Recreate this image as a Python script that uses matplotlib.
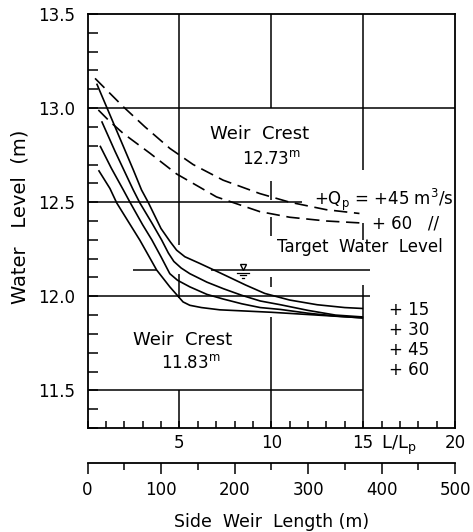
import matplotlib
matplotlib.use('Agg')
import matplotlib.pyplot as plt
from matplotlib.ticker import MultipleLocator, FixedLocator

plt.rcParams['font.family'] = ['DejaVu Sans']
plt.rcParams['mathtext.default'] = 'regular'

# ---------------- data (x = L/Lp, y = water level in m) ----------------
q15_x = [0.5, 1.5, 2.5, 2.94, 3.3, 4.0, 4.5, 4.85, 5.3, 6.1, 7.2, 7.74, 8.6, 9.65, 11.0, 12.5, 14.0, 15.0]
q15_y = [13.13, 12.90, 12.67, 12.565, 12.50, 12.36, 12.29, 12.245, 12.21, 12.175, 12.125, 12.10, 12.06, 12.015, 11.98, 11.955, 11.94, 11.935]

q30_x = [0.77, 1.5, 2.49, 2.85, 3.5, 4.03, 4.4, 4.7, 5.1, 5.57, 6.5, 7.4, 8.4, 9.4, 10.5, 12.0, 13.5, 15.0]
q30_y = [12.93, 12.77, 12.565, 12.496, 12.39, 12.30, 12.23, 12.185, 12.15, 12.12, 12.075, 12.04, 12.005, 11.975, 11.955, 11.925, 11.90, 11.89]

q45_x = [0.68, 1.3, 1.95, 2.31, 3.0, 3.5, 4.0, 4.48, 4.9, 5.57, 6.5, 7.4, 8.4, 9.4, 10.5, 12.0, 13.5, 15.0]
q45_y = [12.80, 12.68, 12.565, 12.50, 12.38, 12.30, 12.21, 12.12, 12.085, 12.05, 12.01, 11.985, 11.96, 11.94, 11.93, 11.91, 11.895, 11.885]

q60_x = [0.6, 1.22, 1.59, 2.2, 2.85, 3.3, 3.76, 4.48, 4.93, 5.2, 5.57, 6.2, 7.2, 8.5, 10.0, 12.5, 15.0]
q60_y = [12.67, 12.573, 12.496, 12.40, 12.298, 12.22, 12.14, 12.05, 12.00, 11.97, 11.952, 11.94, 11.928, 11.922, 11.915, 11.90, 11.885]

qp45_x = [0.41, 1.0, 1.95, 3.13, 4.48, 5.75, 7.38, 9.37, 11.0, 13.0, 14.8]
qp45_y = [13.158, 13.10, 13.007, 12.90, 12.786, 12.70, 12.617, 12.546, 12.50, 12.46, 12.44]

qp60_x = [0.59, 1.2, 1.95, 3.4, 4.85, 6.1, 7.02, 9.37, 11.0, 13.0, 14.8]
qp60_y = [12.99, 12.93, 12.865, 12.76, 12.65, 12.58, 12.528, 12.45, 12.42, 12.40, 12.39]

solid_labels = ['+ 15', '+ 30', '+ 45', '+ 60']
weir_crest_upper = '12.73'
weir_crest_lower = '11.83'
target_level = 12.138
LP_M = 25.0   # metres per unit of L/Lp (500 m <-> 20)

y_ticks = [11.5, 12.0, 12.5, 13.0, 13.5]
y_tick_labels = ['11.5', '12.0', '12.5', '13.0', '13.5']
x_ticks = [5, 10, 15, 20]
x_tick_labels = ['5', '10', '15', '20']
len_ticks = [0, 100, 200, 300, 400, 500]
len_tick_labels = ['0', '100', '200', '300', '400', '500']

# ---------------- figure ----------------
W, H = 473, 532
fig = plt.figure(figsize=(W / 100, H / 100), dpi=100)
L, R, T, B = 87.5, 455, 14, 428
ax = fig.add_axes([L / W, 1 - B / H, (R - L) / W, (B - T) / H])
ax.set_xlim(0, 20)
ax.set_ylim(11.3, 13.5)

for s in ax.spines.values():
    s.set_linewidth(1.3)

FS = 12
FW = 13
ax.yaxis.set_major_locator(FixedLocator(y_ticks))
ax.set_yticklabels(y_tick_labels)
ax.yaxis.set_minor_locator(MultipleLocator(0.1))
ax.xaxis.set_major_locator(FixedLocator(x_ticks))
ax.set_xticklabels(x_tick_labels)
ax.xaxis.set_minor_locator(MultipleLocator(1))
ax.tick_params(axis='y', which='both', direction='in', length=7, width=1.1,
               labelsize=FS, pad=9)
ax.tick_params(axis='x', which='both', direction='in', length=5, width=1.1,
               labelsize=FS, pad=4.5)

# hand-drawn style grid (segments)
gk = dict(color='black', lw=1.1)
ax.hlines(13.0, 0, 20, **gk)
ax.hlines(12.5, 0, 11.7, **gk)
ax.hlines(12.0, 0, 15.4, **gk)
ax.hlines(11.5, 0, 15.0, **gk)
ax.vlines(5, 12.27, 13.5, **gk)
ax.vlines(5, 11.99, 12.12, **gk)
ax.vlines(5, 11.3, 11.5, **gk)
for lo, hi in [(11.3, 11.89), (12.05, 12.10), (12.32, 12.42), (12.51, 12.61), (13.0, 13.5)]:
    ax.vlines(10, lo, hi, **gk)
for lo, hi in [(11.3, 12.06), (12.30, 12.39), (12.67, 13.5)]:
    ax.vlines(15, lo, hi, **gk)

# target water level
ax.hlines(target_level, 2.5, 3.8, color='black', lw=1.1)
ax.hlines(target_level, 6.7, 15.35, color='black', lw=1.1)
sx = 8.47
ax.plot([sx], [target_level + 0.02], marker='v', ms=5, mfc='white', mec='black', mew=1.0)
for dy, hw in [(-0.012, 0.32), (-0.027, 0.18), (-0.042, 0.06)]:
    ax.plot([sx - hw, sx + hw], [target_level + dy] * 2, color='black', lw=0.9)

# curves
for xs, ys in [(q15_x, q15_y), (q30_x, q30_y), (q45_x, q45_y), (q60_x, q60_y)]:
    ax.plot(xs, ys, color='black', lw=1.2, solid_capstyle='butt')
for xs, ys in [(qp45_x, qp45_y), (qp60_x, qp60_y)]:
    ax.plot(xs, ys, color='black', lw=1.2, dashes=[8, 4])

# annotations
ax.text(9.375, 12.86, 'Weir  Crest', ha='center', va='center', fontsize=FW)
ax.text(10.0, 12.73, weir_crest_upper + '$^{m}$', ha='center', va='center', fontsize=FS)
ax.text(5.2, 11.77, 'Weir  Crest', ha='center', va='center', fontsize=FW)
ax.text(5.6, 11.645, weir_crest_lower + '$^{m}$', ha='center', va='center', fontsize=FS)
ax.text(12.3, 12.51, '+Q$_p$ = +45 m$^3$/s', ha='left', va='center', fontsize=FS)
ax.text(15.46, 12.385, '+ 60   //', ha='left', va='center', fontsize=FS)
ax.text(10.3, 12.263, 'Target  Water  Level', ha='left', va='center', fontsize=FS)
for lab, yy in zip(solid_labels, [11.926, 11.82, 11.713, 11.61]):
    ax.text(16.4, yy, lab, ha='left', va='center', fontsize=FS)

ax.text(15.95, 11.205, 'L/L$_p$', ha='left', va='center', fontsize=FW)

# secondary (side weir length) axis
sec = ax.secondary_xaxis((B - 463) / (B - T),
                         functions=(lambda v: v * LP_M, lambda m: m / LP_M))
sec.xaxis.set_major_locator(FixedLocator(len_ticks))
sec.set_xticklabels(len_tick_labels)
sec.xaxis.set_minor_locator(MultipleLocator(50))
sec.tick_params(which='major', direction='out', length=8, width=1.1, labelsize=FS, pad=5)
sec.tick_params(which='minor', direction='out', length=5, width=1.1)
sec.spines['bottom'].set_linewidth(1.3)
sec.set_xlabel('Side  Weir  Length (m)', fontsize=12.5, labelpad=10)

fig.text(20 / W, 1 - 217 / H, 'Water   Level  (m)', rotation=90, ha='center', va='center',
         fontsize=14)

fig.savefig('out.png', dpi=100)
